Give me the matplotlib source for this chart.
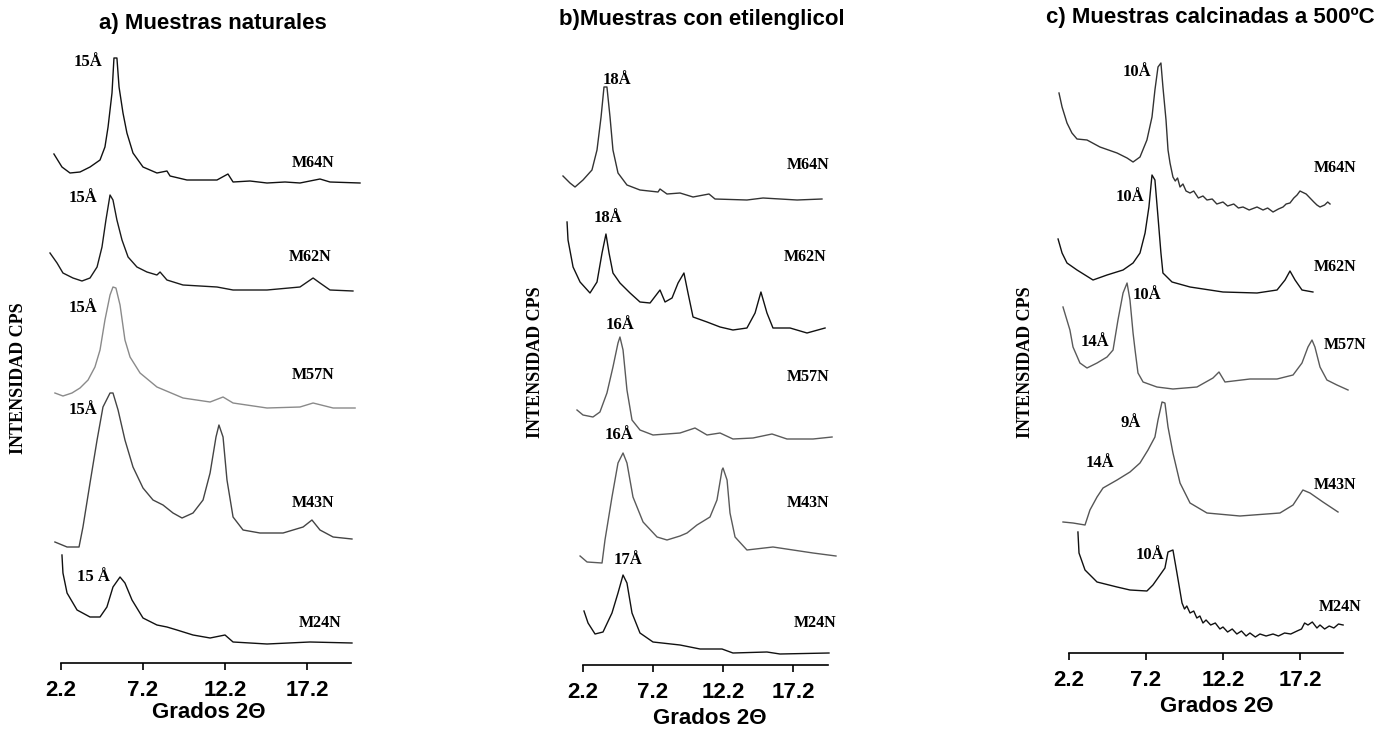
import matplotlib
matplotlib.use("Agg")
import matplotlib.pyplot as plt

# ---------------- DATA ----------------
samples = ["M64N", "M62N", "M57N", "M43N", "M24N"]
xticks = [2.2, 7.2, 12.2, 17.2]
xtick_labels = ["2.2", "7.2", "12.2", "17.2"]

titles = ["a) Muestras naturales", "b)Muestras con etilenglicol",
          "c) Muestras calcinadas a 500ºC"]
xlabel = "Grados 2\u0398"
ylabel = "INTENSIDAD CPS"

# Panel a) natural samples: 2-theta (deg) and relative intensity (cps, arbitrary)
a_m64n_2t = [1.77, 2.26, 2.75, 3.36, 3.97, 4.58, 4.88, 5.07, 5.31, 5.43, 5.61, 5.74, 5.98,
             6.22, 6.59, 7.2, 8.05, 8.66, 8.85, 9.88, 11.71, 12.38, 12.69, 13.72, 14.76,
             15.86, 16.77, 17.99, 18.6, 20.43]
a_m64n_i = [29, 16, 10, 11, 16, 23, 36, 56, 90, 125, 125, 96, 70,
            50, 30, 16, 10, 12, 7, 3, 3, 9, 1, 2, 0,
            1, 0, 4, 1, 0]
a_m62n_2t = [1.53, 1.96, 2.32, 2.93, 3.48, 3.97, 4.4, 4.7, 4.94, 5.19, 5.37, 5.61, 5.92,
             6.29, 6.83, 7.44, 8.05, 8.24, 8.66, 9.64, 11.71, 12.69, 14.76, 16.77, 17.57,
             17.99, 18.6, 20.0]
a_m62n_i = [37, 27, 17, 12, 9, 12, 23, 43, 70, 95, 90, 70, 50,
            33, 23, 18, 15, 18, 10, 5, 3, 0, 0, 3, 12,
            7, 0, -1]
a_m57n_2t = [1.83, 2.32, 2.87, 3.36, 3.85, 4.27, 4.58, 4.88, 5.19, 5.37, 5.55, 5.8, 6.1,
             6.41, 7.02, 8.05, 9.64, 11.29, 12.08, 12.69, 14.76, 16.77, 17.57, 18.79, 20.13]
a_m57n_i = [15, 12, 15, 20, 28, 41, 58, 88, 113, 121, 120, 103, 68,
            51, 35, 21, 10, 6, 11, 5, 0, 1, 5, 0, 0]
a_m43n_2t = [1.83, 2.57, 3.3, 3.54, 3.97, 4.4, 4.76, 5.19, 5.37, 5.68, 6.1, 6.59, 7.2,
             7.81, 8.42, 9.03, 9.58, 10.25, 10.86, 11.29, 11.65, 11.83, 12.08, 12.32, 12.69,
             13.3, 14.33, 15.74, 16.96, 17.5, 17.99, 18.79, 19.94]
a_m43n_i = [-9, -14, -14, 6, 50, 93, 126, 140, 140, 123, 93, 66, 45,
            33, 28, 20, 15, 20, 33, 60, 96, 108, 96, 53, 16,
            3, 0, 0, 6, 13, 3, -4, -6]
a_m24n_2t = [2.26, 2.32, 2.57, 3.18, 3.97, 4.58, 5.0, 5.37, 5.8, 6.1, 6.53, 7.2, 8.05,
             8.66, 9.27, 10.25, 11.29, 12.2, 12.69, 14.76, 17.38, 19.94]
a_m24n_i = [88, 70, 50, 33, 26, 26, 36, 56, 66, 60, 43, 25, 18,
            16, 13, 8, 5, 8, 1, -1, 1, 0]

# Panel b) ethylene-glycol samples
b_m64n_2t = [0.77, 1.27, 1.63, 2.2, 2.84, 3.2, 3.49, 3.7, 3.91, 4.13, 4.34, 4.7, 5.34,
             6.27, 7.56, 7.7, 8.2, 9.13, 10.06, 11.2, 11.63, 13.91, 15.06, 17.49, 19.27]
b_m64n_i = [24, 17, 13, 20, 30, 50, 83, 113, 113, 83, 50, 27, 15,
            10, 8, 11, 6, 7, 3, 6, 1, 0, 2, 0, 1]
b_m62n_2t = [1.06, 1.13, 1.49, 1.99, 2.7, 3.2, 3.56, 3.84, 4.06, 4.34, 4.84, 5.56, 6.27,
             6.99, 7.7, 8.06, 8.56, 8.99, 9.41, 9.7, 10.06, 11.06, 11.99, 12.91, 13.91,
             14.49, 14.91, 15.34, 15.77, 16.99, 18.2, 19.49]
b_m62n_i = [106, 88, 61, 46, 35, 46, 75, 94, 75, 55, 45, 35, 26,
            25, 38, 26, 30, 45, 55, 35, 11, 6, 1, -2, 0,
            15, 36, 15, 0, 0, -5, 0]
b_m57n_2t = [1.77, 2.2, 2.91, 3.41, 3.91, 4.34, 4.7, 4.84, 5.06, 5.34, 5.7, 6.27, 7.2,
             9.13, 10.2, 11.06, 11.99, 12.91, 14.34, 15.7, 16.77, 18.63, 19.99]
b_m57n_i = [28, 23, 21, 26, 45, 71, 95, 101, 88, 48, 18, 8, 3,
            5, 10, 3, 5, -1, 0, 4, -1, -1, 1]
b_m43n_2t = [1.99, 2.49, 3.56, 3.77, 4.27, 4.7, 5.06, 5.34, 5.77, 6.49, 7.49, 8.2, 9.13,
             9.63, 10.34, 11.27, 11.77, 12.13, 12.2, 12.49, 12.7, 13.06, 13.91, 15.77, 17.2,
             18.63, 20.27]
b_m43n_i = [-6, -12, -13, 10, 53, 87, 97, 87, 53, 28, 13, 10, 14,
            17, 25, 33, 50, 80, 82, 70, 37, 13, 0, 3, 0,
            -3, -6]
b_m24n_2t = [2.27, 2.56, 3.06, 3.63, 4.27, 4.7, 5.06, 5.34, 5.7, 6.27, 7.2, 9.13, 10.56,
             12.13, 12.91, 15.34, 16.27, 19.77]
b_m24n_i = [41, 29, 18, 20, 39, 59, 77, 69, 39, 19, 10, 7, 3,
            3, -1, 0, -2, -1]

# Panel c) samples calcined at 500 ºC
c_m64n_2t = [1.55, 1.75, 2.07, 2.39, 2.72, 3.37, 4.21, 5.32, 5.97, 6.36, 6.81, 7.26, 7.59,
             7.78, 7.98, 8.17, 8.3, 8.5, 8.63, 8.76, 8.95, 9.1, 9.25, 9.41, 9.6,
             9.8, 10.06, 10.3, 10.6, 10.9, 11.16, 11.5, 11.8, 12.2, 12.5,
             12.9, 13.2, 13.5, 13.9, 14.41, 14.8, 15.1, 15.45, 15.8, 16.1,
             16.3, 16.55, 16.8, 17.01, 17.2, 17.33, 17.6, 17.85, 18.1, 18.3,
             18.5, 18.8, 19.0, 19.15]
c_m64n_i = [115, 101, 85, 75, 69, 68, 61, 55, 50, 46, 51, 68, 91,
            118, 141, 145, 121, 88, 58, 45, 31, 27, 30, 21, 24,
            17, 15, 17, 10, 12, 8, 9, 4, 6, 2,
            4, 0, 1, -2, 1, -2, 0, -4, -1, 1,
            4, 5, 10, 13, 17, 16, 14, 10, 6, 3,
            1, 3, 6, 4]
c_m62n_2t = [1.49, 1.75, 2.07, 2.72, 3.76, 4.67, 5.71, 6.36, 6.81, 7.14, 7.39, 7.59, 7.78,
             7.98, 8.17, 8.3, 8.89, 10.06, 12.2, 14.41, 15.71, 16.23, 16.55, 16.88, 17.33,
             18.04]
c_m62n_i = [53, 39, 29, 22, 12, 17, 22, 29, 39, 59, 85, 117, 112,
            75, 39, 19, 10, 5, 0, -1, 2, 12, 21, 12, 2,
            0]
c_m57n_2t = [1.81, 2.26, 2.46, 2.91, 3.37, 4.02, 4.67, 5.06, 5.38, 5.71, 5.97, 6.16, 6.36,
             6.49, 6.68, 7.01, 7.91, 8.95, 10.51, 11.55, 11.94, 12.33, 13.95, 15.71, 16.75,
             17.33, 17.72, 17.98, 18.17, 18.5, 18.95, 19.6, 20.32]
c_m57n_i = [80, 57, 40, 24, 19, 24, 30, 37, 67, 94, 104, 87, 54,
            37, 14, 5, 0, -2, 0, 9, 15, 5, 8, 8, 12,
            24, 40, 47, 40, 20, 7, 2, -3]
c_m43n_2t = [1.81, 2.46, 3.24, 3.56, 4.02, 4.41, 5.32, 6.16, 6.81, 7.33, 7.78, 7.98, 8.24,
             8.43, 8.63, 8.95, 9.41, 10.06, 11.16, 13.3, 15.9, 16.75, 17.39, 17.85, 18.69,
             19.67]
c_m43n_i = [-7, -8, -10, 5, 18, 27, 35, 43, 52, 65, 78, 95, 113,
            112, 88, 62, 32, 12, 2, -1, 2, 10, 25, 22, 13,
            3]
c_m24n_2t = [2.78, 2.85, 3.24, 4.02, 5.32, 6.16, 7.26, 7.65, 8.11, 8.43, 8.63, 8.95, 9.21,
             9.54, 9.7, 9.85, 10.06, 10.3, 10.5, 10.7, 10.9, 11.1, 11.4, 11.7, 12.0,
             12.2, 12.5, 12.8, 13.1, 13.4, 13.7, 13.95, 14.3, 14.6, 15.0, 15.45, 15.8,
             16.2, 16.6, 17.01, 17.3, 17.5, 17.72, 18.0, 18.3, 18.5, 18.8, 19.1, 19.4,
             19.7, 20.0]
c_m24n_i = [101, 80, 63, 51, 46, 43, 42, 48, 58, 65, 81, 83, 60,
            30, 24, 27, 20, 22, 15, 17, 10, 13, 8, 10, 4,
            6, 1, 4, -1, 2, -3, 0, -4, -1, -3, -1, -3,
            0, -1, 2, 4, 10, 8, 11, 5, 8, 4, 7, 5,
            9, 8]

# peak labels (d-spacings) per panel
a_peaks = ["15Å", "15Å", "15Å", "15Å", "15 Å"]
b_peaks = ["18Å", "18Å", "16Å", "16Å", "17Å"]
c_peaks = [["10Å"], ["10Å"], ["10Å", "14Å"], ["9Å", "14Å"], ["10Å"]]

# ---------------- LAYOUT / STYLE ----------------
W, H = 1397, 732
fig = plt.figure(figsize=(W / 100, H / 100), dpi=100)
fig.patch.set_facecolor("white")

SANS = ["Liberation Sans", "DejaVu Sans"]
SERIF = ["Liberation Serif", "DejaVu Serif"]


def px_axes(x0, x1, ytop, ybot):
    return fig.add_axes([x0 / W, 1 - ybot / H, (x1 - x0) / W, (ybot - ytop) / H])


panels = [
    dict(box=(49.5, 362.8, 40, 663), xlim=(1.5, 20.6), ylim=(0, 623), spine_end=19.9,
         traces=[(a_m64n_2t, a_m64n_i), (a_m62n_2t, a_m62n_i), (a_m57n_2t, a_m57n_i),
                 (a_m43n_2t, a_m43n_i), (a_m24n_2t, a_m24n_i)],
         offsets=[480, 373, 255, 130, 20],
         colors=["#111111", "#1a1a1a", "#8a8a8a", "#444444", "#111111"],
         peak_pos=[[(3.85, 601)], [(3.54, 465)], [(3.54, 355)], [(3.54, 253)], [(4.15, 86)]],
         name_pos=[(17.57, 500), (17.38, 406), (17.57, 288), (17.57, 160), (17.99, 40)],
         peaks=[[p] for p in a_peaks],
         title_xy=(213, 23), xlabel_xy=(209, 712), ylabel_xy=(19, 378)),
    dict(box=(559.2, 839.2, 40, 665), xlim=(0.5, 20.5), ylim=(0, 625), spine_end=19.7,
         traces=[(b_m64n_2t, b_m64n_i), (b_m62n_2t, b_m62n_i), (b_m57n_2t, b_m57n_i),
                 (b_m43n_2t, b_m43n_i), (b_m24n_2t, b_m24n_i)],
         offsets=[465, 337, 227, 115, 13],
         colors=["#333333", "#111111", "#5a5a5a", "#5a5a5a", "#111111"],
         peak_pos=[[(4.63, 585)], [(3.99, 447)], [(4.84, 340)], [(4.77, 230)], [(5.41, 105)]],
         name_pos=[(18.27, 500), (18.06, 408), (18.27, 288), (18.27, 162), (18.77, 42)],
         peaks=[[p] for p in b_peaks],
         title_xy=(702, 20), xlabel_xy=(710, 718), ylabel_xy=(535, 362)),
    dict(box=(1053.6, 1350.8, 40, 653), xlim=(1.2, 20.5), ylim=(0, 613), spine_end=20.0,
         traces=[(c_m64n_2t, c_m64n_i), (c_m62n_2t, c_m62n_i), (c_m57n_2t, c_m57n_i),
                 (c_m43n_2t, c_m43n_i), (c_m24n_2t, c_m24n_i)],
         offsets=[445, 361, 266, 138, 20],
         colors=["#333333", "#111111", "#5a5a5a", "#555555", "#111111"],
         peak_pos=[[(6.62, 581)], [(6.16, 456)], [(7.26, 358), (3.89, 311)],
                   [(6.23, 230), (4.21, 190)], [(7.46, 98)]],
         name_pos=[(19.47, 485), (19.47, 386), (20.12, 308), (19.47, 168), (19.8, 46)],
         peaks=c_peaks,
         title_xy=(1210, 18), xlabel_xy=(1217, 707), ylabel_xy=(1025, 362)),
]

for title, p in zip(titles, panels):
    ax = px_axes(*p["box"])
    ax.set_xlim(*p["xlim"])
    ax.set_ylim(*p["ylim"])
    for (tt, ii), off, col in zip(p["traces"], p["offsets"], p["colors"]):
        ax.plot(tt, [v + off for v in ii], color=col, lw=1.0, clip_on=False,
                solid_joinstyle="round")
    for name, (nx, ny) in zip(samples, p["name_pos"]):
        ax.text(nx, ny, name, ha="center", va="center", fontsize=11.5,
                fontweight="bold", family=SERIF)
    for labs, poss in zip(p["peaks"], p["peak_pos"]):
        for lab, (lx, ly) in zip(labs, poss):
            ax.text(lx, ly, lab, ha="center", va="center", fontsize=12,
                    fontweight="bold", family=SERIF)
    for s in ["top", "right", "left"]:
        ax.spines[s].set_visible(False)
    ax.spines["bottom"].set_bounds(2.2, p["spine_end"])
    ax.spines["bottom"].set_linewidth(1.2)
    ax.set_yticks([])
    ax.set_xticks(xticks)
    ax.set_xticklabels(xtick_labels, fontsize=16, family=SANS, fontweight="bold")
    ax.tick_params(axis="x", direction="out", length=5, width=1.2, pad=7)
    ax.patch.set_alpha(0)

    tx, ty = p["title_xy"]
    fig.text(tx / W, 1 - ty / H, title, ha="center", va="center", fontsize=16,
             fontweight="bold", family=SANS)
    lx, ly = p["xlabel_xy"]
    fig.text(lx / W, 1 - ly / H, xlabel, ha="center", va="center", fontsize=16,
             fontweight="bold", family=SANS)
    yx, yy = p["ylabel_xy"]
    fig.text(yx / W, 1 - yy / H, ylabel, ha="center", va="center", rotation=90,
             fontsize=13, fontweight="bold", family=SERIF)

fig.savefig("out.png", dpi=100, facecolor="white")
